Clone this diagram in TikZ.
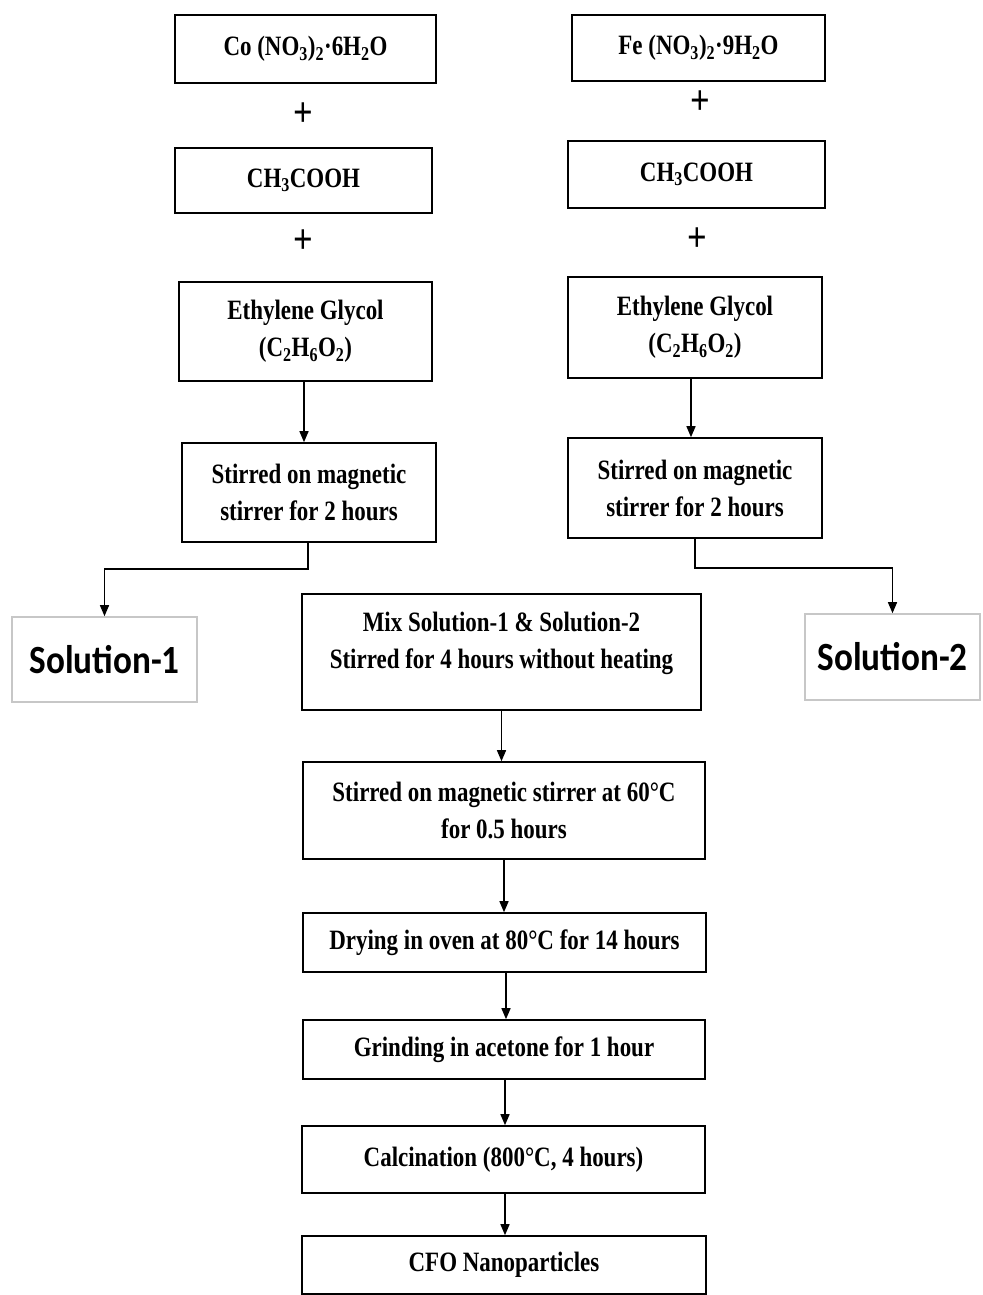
\documentclass[tikz,border=0pt]{standalone}
\usepackage{fontspec}
\setmainfont{Liberation Serif}[FakeStretch=0.82]
\newfontfamily\solfont{Carlito}[FakeStretch=0.88]
\usetikzlibrary{arrows.meta}
\begin{document}
\begin{tikzpicture}[x=1pt,y=-1pt,
 box/.style={draw, line width=1.6pt, align=center, inner sep=0pt, font=\fontsize{28}{37}\selectfont\bfseries},
 solbox/.style={draw=black!22, line width=1.6pt, align=center, inner sep=0pt, font=\solfont\fontsize{40}{44}\selectfont\bfseries},
 arr/.style={line width=1.4pt, -{Triangle[length=11pt,width=9pt]}},
 plus/.style={font=\fontsize{42}{42}\selectfont\bfseries, inner sep=0pt}]
\useasboundingbox[fill=white] (0,0) rectangle (982,1295);
% left column
\node[box, minimum width=261pt, minimum height=68pt] (L1) at (305.5,49) {Co (NO\textsubscript{3})\textsubscript{2}·6H\textsubscript{2}O};
\node[plus] (LP1) at (303,115) {+};
\node[box, minimum width=257pt, minimum height=65pt] (L2) at (303.5,180.5) {CH\textsubscript{3}COOH};
\node[plus] (LP2) at (303,242) {+};
\node[box, minimum width=253pt, minimum height=99pt] (L3) at (305.5,331.5) {Ethylene Glycol\\(C\textsubscript{2}H\textsubscript{6}O\textsubscript{2})};
\node[box, minimum width=254pt, minimum height=99pt] (L4) at (309,492.5) {Stirred on magnetic\\stirrer for 2 hours};
\node[solbox, minimum width=185pt, minimum height=85pt] (S1) at (104.5,659.5) {Solution-1};
% right column
\node[box, minimum width=253pt, minimum height=66pt] (R1) at (698.5,48) {Fe (NO\textsubscript{3})\textsubscript{2}·9H\textsubscript{2}O};
\node[plus] (RP1) at (700,103) {+};
\node[box, minimum width=257pt, minimum height=67pt] (R2) at (696.5,174.5) {CH\textsubscript{3}COOH};
\node[plus] (RP2) at (697,240) {+};
\node[box, minimum width=254pt, minimum height=101pt] (R3) at (695,327.5) {Ethylene Glycol\\(C\textsubscript{2}H\textsubscript{6}O\textsubscript{2})};
\node[box, minimum width=254pt, minimum height=100pt] (R4) at (695,488) {Stirred on magnetic\\stirrer for 2 hours};
\node[solbox, minimum width=175pt, minimum height=86pt] (S2) at (892.5,657) {Solution-2};
% middle
\node[box, minimum width=399pt, minimum height=116pt, text depth=24pt] (M1) at (501.5,652) {Mix Solution-1 \& Solution-2\\Stirred for 4 hours without heating};
\node[box, minimum width=402pt, minimum height=97pt] (M2) at (504,810.5) {Stirred on magnetic stirrer at 60°C\\for 0.5 hours};
\node[box, minimum width=403pt, minimum height=59pt] (M3) at (504.5,942.5) {Drying in oven at 80°C for 14 hours};
\node[box, minimum width=402pt, minimum height=59pt] (M4) at (504,1049.5) {Grinding in acetone for 1 hour};
\node[box, minimum width=403pt, minimum height=67pt] (M5) at (503.5,1159.5) {Calcination (800°C, 4 hours)};
\node[box, minimum width=404pt, minimum height=58pt] (M6) at (504,1265) {CFO Nanoparticles};
% connectors
\draw[arr] ([xshift=-1.5pt]L3.south) -- ([xshift=-1.5pt]L3.south |- L4.north);
\draw[arr] ([xshift=-1pt]L4.south) -- ++(0,26) -| (S1.north);
\draw[arr] ([xshift=-4pt]R3.south) -- ([xshift=-4pt]R3.south |- R4.north);
\draw[arr] (R4.south) -- ++(0,29) -| (S2.north);
\draw[arr] (M1.south) -- (M1.south |- M2.north);
\draw[arr] (M2.south) -- (M2.south |- M3.north);
\draw[arr] ([xshift=1.5pt]M3.south) -- ([xshift=1.5pt]M3.south |- M4.north);
\draw[arr] ([xshift=1pt]M4.south) -- ([xshift=1pt]M4.south |- M5.north);
\draw[arr] ([xshift=1.5pt]M5.south) -- ([xshift=1.5pt]M5.south |- M6.north);
\end{tikzpicture}
\end{document}
